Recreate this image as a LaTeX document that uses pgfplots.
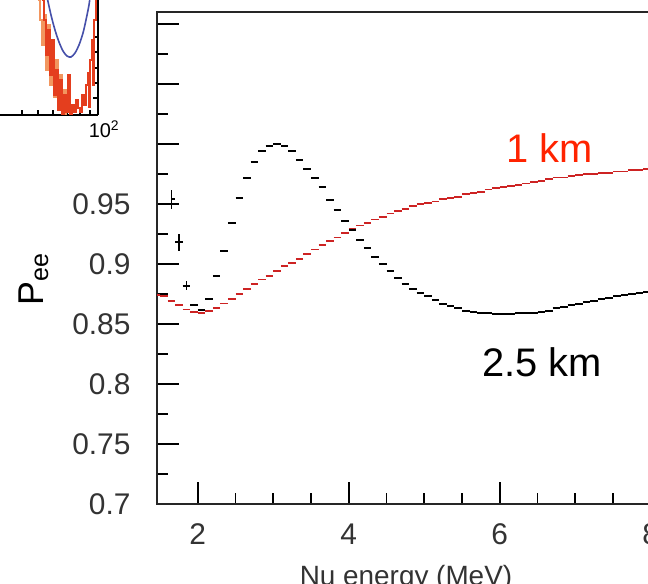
\documentclass[border=0pt]{standalone}
\usepackage{pgfplots}
\pgfplotsset{compat=1.18}
\usepackage{pgfplotstable}
\usepackage{fontspec}
\setmainfont{Liberation Sans}
\definecolor{curvered}{RGB}{205,35,35}
\definecolor{labelred}{RGB}{255,35,0}
\definecolor{histred}{RGB}{228,62,30}
\definecolor{historange}{RGB}{242,150,95}
\definecolor{fitblue}{RGB}{70,80,170}

% survival probability, 2.5 km baseline (bin centre, value, error)
\pgfplotstableread{
E P err
1.65 0.954 0.008
1.75 0.918 0.007
1.85 0.882 0.004
1.95 0.866 0
2.05 0.862 0
2.15 0.871 0
2.25 0.890 0
2.35 0.911 0
2.45 0.934 0
2.55 0.955 0
2.65 0.972 0
2.75 0.985 0
2.85 0.994 0
2.95 0.998 0
3.05 1.000 0
3.15 0.998 0
3.25 0.994 0
3.35 0.987 0
3.45 0.979 0
3.55 0.972 0
3.65 0.964 0
3.75 0.953 0
3.85 0.945 0
3.95 0.936 0
4.05 0.928 0
4.15 0.920 0
4.25 0.913 0
4.35 0.906 0
4.45 0.900 0
4.55 0.894 0
4.65 0.888 0
4.75 0.883 0
4.85 0.879 0
4.95 0.876 0
5.05 0.873 0
5.15 0.870 0
5.25 0.867 0
5.35 0.865 0
5.45 0.863 0
5.55 0.861 0
5.65 0.860 0
5.75 0.859 0
5.85 0.859 0
5.95 0.858 0
6.05 0.858 0
6.15 0.858 0
6.25 0.859 0
6.35 0.859 0
6.45 0.859 0
6.55 0.860 0
6.65 0.861 0
6.75 0.863 0
6.85 0.864 0
6.95 0.866 0
7.05 0.867 0
7.15 0.868 0
7.25 0.869 0
7.35 0.871 0
7.45 0.872 0
7.55 0.873 0
7.65 0.874 0
7.75 0.875 0
7.85 0.876 0
7.95 0.877 0
8.05 0.878 0
}\farTable

% survival probability, 1 km baseline
\pgfplotstableread{
E P
1.45 0.874
1.55 0.873
1.65 0.869
1.75 0.866
1.85 0.862
1.95 0.860
2.05 0.859
2.15 0.861
2.25 0.863
2.35 0.867
2.45 0.871
2.55 0.875
2.65 0.879
2.75 0.883
2.85 0.887
2.95 0.890
3.05 0.894
3.15 0.898
3.25 0.901
3.35 0.904
3.45 0.908
3.55 0.912
3.65 0.916
3.75 0.919
3.85 0.922
3.95 0.926
4.05 0.929
4.15 0.932
4.25 0.934
4.35 0.937
4.45 0.939
4.55 0.942
4.65 0.944
4.75 0.946
4.85 0.948
4.95 0.950
5.05 0.951
5.15 0.952
5.25 0.954
5.35 0.955
5.45 0.956
5.55 0.958
5.65 0.959
5.75 0.960
5.85 0.962
5.95 0.963
6.05 0.964
6.15 0.965
6.25 0.966
6.35 0.967
6.45 0.968
6.55 0.969
6.65 0.971
6.75 0.972
6.85 0.972
6.95 0.973
7.05 0.974
7.15 0.975
7.25 0.975
7.35 0.976
7.45 0.976
7.55 0.977
7.65 0.977
7.75 0.978
7.85 0.978
7.95 0.979
8.05 0.979
}\nearTable

\begin{document}
\begin{tikzpicture}
\begin{scope}
\clip (0,0) rectangle (648bp,584bp);

% neighbouring panel (partly visible)
\begin{axis}[
  at={(0,469bp)}, anchor=south west,
  scale only axis, width=98bp, height=115bp,
  xmin=0, xmax=98, ymin=0, ymax=115,
  axis x line*=bottom, axis y line*=right,
  axis line style={line width=1.4bp, black},
  tick align=inside,
  xtick={22,38,53,67,80,90}, ytick={17,32,47,63,78,95},
  xticklabels={}, yticklabels={},
  major tick length=5bp,
  tick style={line width=1.2bp, black},
  clip=true,
]
\addplot[const plot, historange, line width=1.2bp] coordinates {
(38,115) (40,95) (42,70) (44,100) (46,45) (48,90) (50,30) (52,70) (54,18)
(56,55) (58,8) (60,40) (62,0) (64,25) (66,0)
};
\addplot[const plot, histred, line width=1.3bp] coordinates {
(42,115) (44,95) (46,60) (48,85) (50,40) (52,75) (54,20) (56,45) (58,5)
(60,35) (62,0) (64,20) (66,3) (68,40) (70,0) (72,10) (74,3) (76,15) (78,7)
(80,3) (82,20) (84,10) (86,30) (88,42) (89,8) (90,55) (92,75) (93,30) (94,95) (96,115) (97,115)
};
\addplot[fitblue, line width=1.6bp, smooth] coordinates {
(47,118) (51,100) (55,85) (59,73) (63,64) (67,59) (71,58) (75,62)
(79,70) (83,82) (86,95) (89,110) (90,118)
};
\end{axis}
\node[font=\fontsize{20}{20}\selectfont, anchor=north] at (104bp,467bp) {10$^{\mathrm{2}}$};

% main panel
\begin{axis}[
  at={(157bp,80bp)}, anchor=south west,
  scale only axis, width=516.4bp, height=492bp,
  xmin=1.46, xmax=8.3, ymin=0.7, ymax=1.11,
  axis line style={line width=1.8bp, black!85},
  tick align=inside, xtick pos=bottom, ytick pos=left,
  xtick={2,4,6,8}, minor x tick num=3,
  ytick={0.7,0.75,0.8,0.85,0.9,0.95,1.0,1.05,1.1},
  yticklabels={0.7,0.75,0.8,0.85,0.9,0.95,{},{},{}},
  minor y tick num=1,
  major tick length=22bp, minor tick length=11bp,
  every tick/.style={line width=1.6bp, black},
  /pgf/number format/assume math mode=true,
  tick label style={font=\fontsize{30}{30}\selectfont, black!80},
  yticklabel style={xshift=-23bp},
  xticklabel style={yshift=-16bp},
  clip=true,
]
\addplot[curvered, line width=1.8bp, jump mark mid] table[x=E, y=P] {\nearTable};
\addplot[black, line width=2bp, jump mark mid,
  error bars/.cd, y dir=both, y explicit, error mark=none,
  error bar style={line width=1.4bp}]
  table[x=E, y=P, y error=err] {\farTable};
\end{axis}

\node[font=\fontsize{40}{40}\selectfont, text=labelred] at (549.5bp,435.5bp) {1 km};
\node[font=\fontsize{40}{40}\selectfont] at (542bp,221.5bp) {2.5 km};
\node[font=\fontsize{36}{36}\selectfont, rotate=90, anchor=south] at (52bp,305bp) {P\textsubscript{ee}};
\node[font=\fontsize{28}{28}\selectfont, anchor=north, inner sep=0pt, text=black!80] at (406bp,19bp) {Nu energy (MeV)};
\end{scope}
\pgfresetboundingbox
\useasboundingbox (0,0) rectangle (648bp,584bp);
\end{tikzpicture}
\end{document}
